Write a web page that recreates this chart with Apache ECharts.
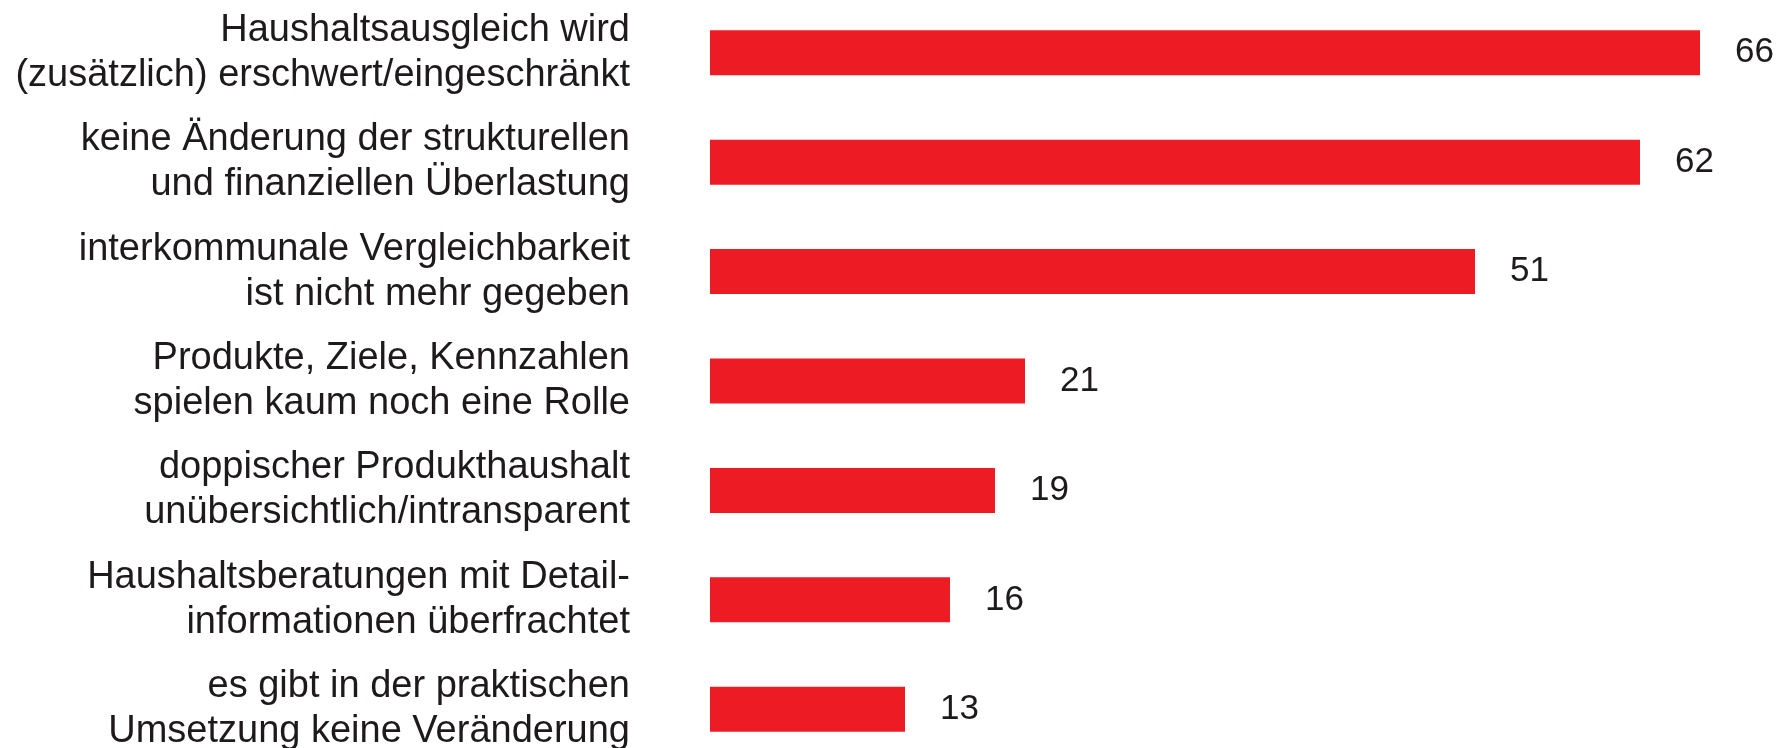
<!DOCTYPE html>
<html>
<head>
<meta charset="utf-8">
<script src="https://cdn.jsdelivr.net/npm/echarts@6/dist/echarts.min.js"></script>
<style>
	html, body { margin: 0; padding: 0; background: #fff; }
	#chart { width: 1792px; height: 748px; }
</style>
</head>
<body>
<div id="chart"></div>
<script>
	// Kategorien (von oben nach unten)
	var categories = [
		'Haushaltsausgleich wird\n(zusätzlich) erschwert/eingeschränkt',
		'keine Änderung der strukturellen\nund finanziellen Überlastung',
		'interkommunale Vergleichbarkeit\nist nicht mehr gegeben',
		'Produkte, Ziele, Kennzahlen\nspielen kaum noch eine Rolle',
		'doppischer Produkthaushalt\nunübersichtlich/intransparent',
		'Haushaltsberatungen mit Detail-\ninformationen überfrachtet',
		'es gibt in der praktischen\nUmsetzung keine Veränderung'
	]
	var values = [66, 62, 51, 21, 19, 16, 13]

	var textColor = '#1e1a1b'
	var barColor = '#ed1c24'

	var myChart = echarts.init(document.getElementById('chart'))
	myChart.setOption({
		animation: false,
		grid: {
			left: 710,
			width: 1080,
			top: -2,
			height: 766,
			outerBoundsMode: 'none',
			containLabel: false
		},
		xAxis: {
			type: 'value',
			min: 0,
			max: 72,
			show: false
		},
		yAxis: {
			type: 'category',
			inverse: true,
			data: categories,
			axisLine: { show: false },
			axisTick: { show: false },
			splitLine: { show: false },
			axisLabel: {
				margin: 80,
				align: 'right',
				color: textColor,
				fontSize: 38,
				lineHeight: 45,
				fontFamily: 'Liberation Sans, Arial, sans-serif'
			}
		},
		series: [{
			type: 'bar',
			data: values,
			barWidth: 45,
			itemStyle: { color: barColor },
			label: {
				show: true,
				position: 'right',
				distance: 35,
				color: textColor,
				fontSize: 35,
				fontFamily: 'Liberation Sans, Arial, sans-serif'
			}
		}]
	})
</script>
</body>
</html>
